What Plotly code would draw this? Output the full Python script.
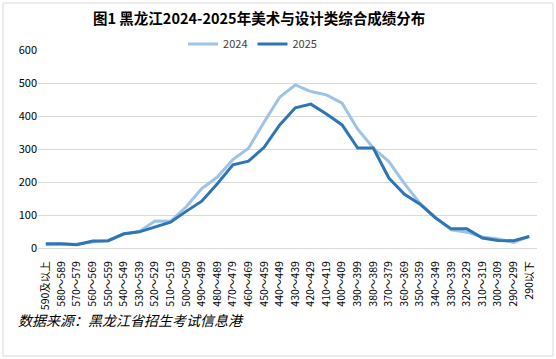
import plotly.graph_objects as go

categories = ["590及以上"] + [f"{s}～{s+9}" for s in range(580, 289, -10)] + ["290以下"]
vals_2024 = [10, 10, 12, 18, 22, 42, 50, 82, 81, 125, 180, 215, 268, 302, 382, 457,
             494, 474, 464, 439, 360, 303, 262, 195, 135, 92, 55, 48, 33, 27, 17, 35]
vals_2025 = [13, 13, 10, 21, 22, 43, 49, 64, 78, 111, 142, 195, 252, 263, 305, 373,
             425, 436, 406, 373, 303, 303, 212, 163, 133, 91, 58, 58, 30, 23, 22, 35]
y_ticks = [0, 100, 200, 300, 400, 500, 600]

FONT = "Noto Sans CJK SC, Liberation Sans, Arial, sans-serif"

fig = go.Figure()
fig.add_trace(go.Scatter(x=categories, y=vals_2024, mode="lines", name="2024",
                         line=dict(color="#9DC3E6", width=3)))
fig.add_trace(go.Scatter(x=categories, y=vals_2025, mode="lines", name="2025",
                         line=dict(color="#2E75B6", width=3)))

fig.update_layout(
    width=556, height=359,
    margin=dict(l=38, r=19, t=50, b=111, autoexpand=False),
    paper_bgcolor="white", plot_bgcolor="white",
    font=dict(family=FONT, size=11, color="#595959"),
    title=dict(text="<b>图1 黑龙江2024-2025年美术与设计类综合成绩分布</b>",
               x=0.466, xref="container", xanchor="center",
               y=1 - 19 / 359, yref="container", yanchor="middle",
               font=dict(family=FONT, size=14.5, color="#000000")),
    showlegend=True,
    legend=dict(orientation="h", x=0.43, xanchor="center", y=1.03, yanchor="middle",
                font=dict(size=11, color="#404040"), itemwidth=30,
                bgcolor="rgba(0,0,0,0)", tracegroupgap=0),
    xaxis=dict(type="category", tickangle=-90, showgrid=False,
               showline=True, linecolor="#D9D9D9", linewidth=1,
               ticks="outside", ticklen=8, tickcolor="rgba(0,0,0,0)",
               tickfont=dict(size=10.5, color="#000000"), automargin=False,
               range=[-0.5, len(categories) - 0.5], fixedrange=True),
    yaxis=dict(range=[0, 600], tickvals=y_ticks, showgrid=True, gridcolor="#D9D9D9",
               gridwidth=1, zeroline=False, showline=False, ticks="", automargin=False,
               tickfont=dict(size=11, color="#000000"), fixedrange=True),
)

fig.add_annotation(text="<i>数据来源：黑龙江省招生考试信息港</i>",
                   xref="paper", yref="paper", x=(16 - 38) / 499, y=(248 - 320) / 198,
                   xanchor="left", yanchor="middle", showarrow=False,
                   font=dict(family=FONT, size=14, color="#000000"))

# outer chart border
fig.add_shape(type="rect", xref="paper", yref="paper",
              x0=(3 - 38) / 499, x1=(553 - 38) / 499,
              y0=(248 - 356) / 198, y1=(248 - 3) / 198,
              line=dict(color="#D9D9D9", width=1), fillcolor="rgba(0,0,0,0)", layer="below")

fig.write_html("out.html", config={"displayModeBar": False},
               post_script="document.body.style.margin='0';document.body.style.padding='0';")
